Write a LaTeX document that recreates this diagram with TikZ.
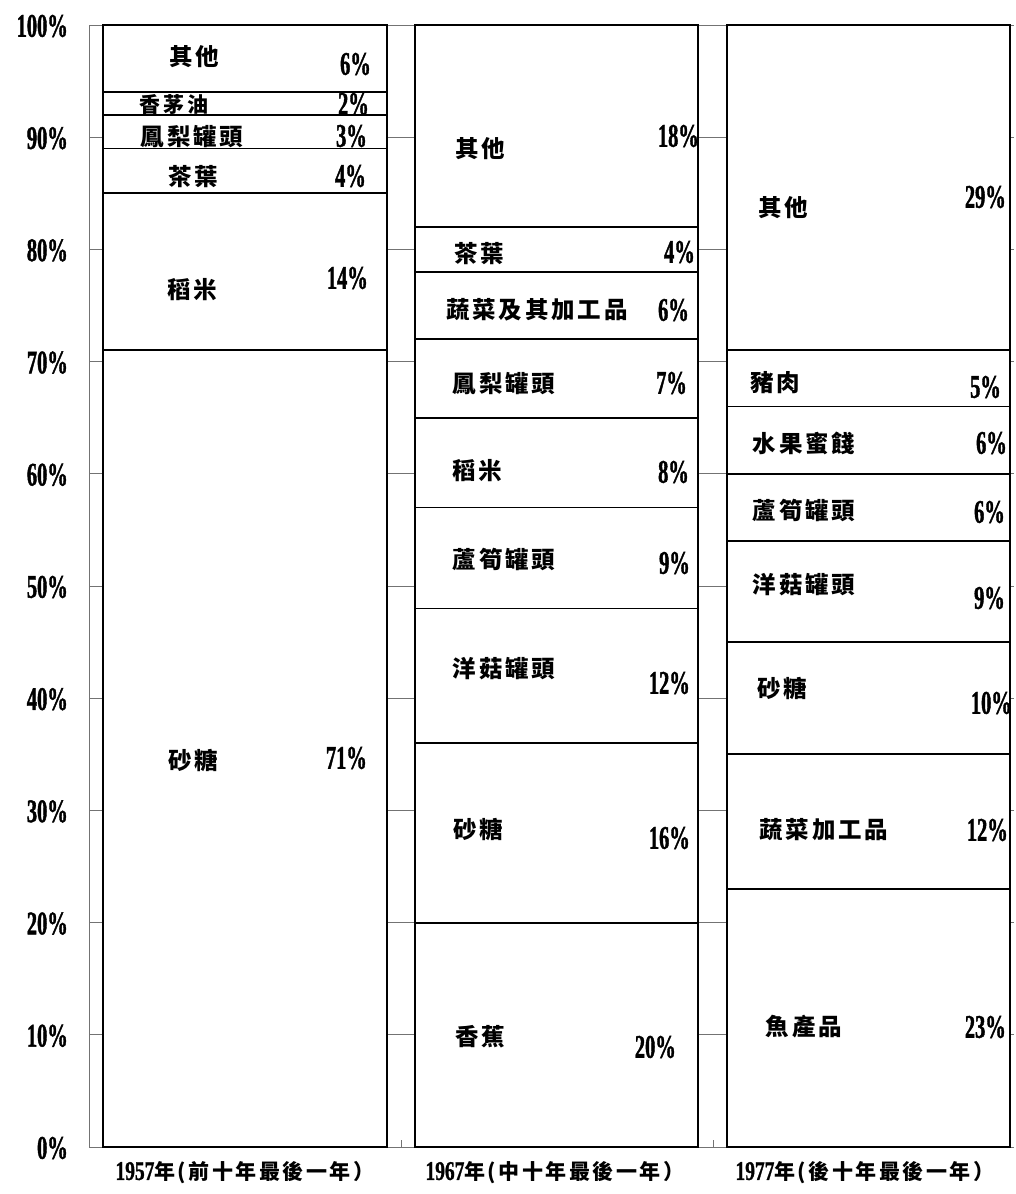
\documentclass[tikz,border=0pt]{standalone}
\usepackage{fontspec}
\newfontfamily\cjk[LetterSpace=12]{Noto Sans CJK TC}
\newfontfamily\numf[FakeStretch=0.62,FakeBold=1.2]{Liberation Serif}
\newfontfamily\numb[FakeStretch=0.72,FakeBold=1]{Liberation Serif}
\begin{document}
\begin{tikzpicture}[x=1pt,y=-1pt,
  declare function={yp(\p)=1147-11.22*\p;},
  grid/.style={draw=black!55,line width=0.8pt},
  barline/.style={draw=black,line width=1.8pt},
  lab/.style={font=\cjk\bfseries\fontsize{23.5}{23.5}\selectfont,inner sep=0pt},
  pct/.style={font=\numf\bfseries\fontsize{33}{33}\selectfont,inner sep=0pt,anchor=east},
  axl/.style={font=\numf\bfseries\fontsize{33}{33}\selectfont,inner sep=0pt,anchor=east},
  cat/.style={inner sep=0pt}]
\useasboundingbox (0,0) rectangle (1015,1194);
% gridlines and axes
\foreach \p in {10,20,...,100}{\draw[grid] (89,{yp(\p)}) -- (1014,{yp(\p)});}
\draw[grid] (89,{yp(100)}) -- (89,{yp(0)});
\draw[grid] (89,{yp(0)}) -- (1014,{yp(0)});
\draw[grid] (401,{yp(0)}) -- (401,{yp(0)-7});
\draw[grid] (713,{yp(0)}) -- (713,{yp(0)-7});
% axis labels
\foreach \p in {0,10,...,100}{\node[axl] (ax\p) at (68,{yp(\p)+1}) {\p\%};}
% bar 1
\fill[white] (103,{yp(0)}) rectangle (387,{yp(100)});
\draw[barline] (103,{yp(0)}) rectangle (387,{yp(100)});
\foreach \p in {71,85,89,92,94}{\draw[barline] (103,{yp(\p)}) -- (387,{yp(\p)});}
% bar 2
\fill[white] (415,{yp(0)}) rectangle (698,{yp(100)});
\draw[barline] (415,{yp(0)}) rectangle (698,{yp(100)});
\foreach \p in {20,36,48,57,65,72,78,82}{\draw[barline] (415,{yp(\p)}) -- (698,{yp(\p)});}
% bar 3
\fill[white] (727,{yp(0)}) rectangle (1010,{yp(100)});
\draw[barline] (727,{yp(0)}) rectangle (1010,{yp(100)});
\foreach \p in {23,35,45,54,60,66,71}{\draw[barline] (727,{yp(\p)}) -- (1010,{yp(\p)});}
% bar 1 labels
\node[lab] (a1) at (194,57) {其他};
\node[pct] (a1p) at (371,64) {6\%};
\node[lab,font=\cjk\bfseries\fontsize{21}{21}\selectfont] (a2) at (174,104) {香茅油};
\node[pct] (a2p) at (369,104) {2\%};
\node[lab] (a3) at (192,137) {鳳梨罐頭};
\node[pct] (a3p) at (367,136) {3\%};
\node[lab] (a4) at (193,177) {茶葉};
\node[pct] (a4p) at (366,176) {4\%};
\node[lab] (a5) at (192,290) {稻米};
\node[pct] (a5p) at (368,278) {14\%};
\node[lab] (a6) at (193,760) {砂糖};
\node[pct] (a6p) at (367,758) {71\%};
% bar 2 labels
\node[lab] (b1) at (480,149) {其他};
\node[pct] (b1p) at (699,136) {18\%};
\node[lab] (b2) at (479,254) {茶葉};
\node[pct] (b2p) at (695,252) {4\%};
\node[lab] (b3) at (537,310) {蔬菜及其加工品};
\node[pct] (b3p) at (689,310) {6\%};
\node[lab] (b4) at (504,384) {鳳梨罐頭};
\node[pct] (b4p) at (687,383) {7\%};
\node[lab] (b5) at (477,471) {稻米};
\node[pct] (b5p) at (689,472) {8\%};
\node[lab] (b6) at (504,559) {蘆筍罐頭};
\node[pct] (b6p) at (690,563) {9\%};
\node[lab] (b7) at (504,669) {洋菇罐頭};
\node[pct] (b7p) at (690,683) {12\%};
\node[lab] (b8) at (478,829) {砂糖};
\node[pct] (b8p) at (690,838) {16\%};
\node[lab] (b9) at (480,1037) {香蕉};
\node[pct] (b9p) at (676,1047) {20\%};
% bar 3 labels
\node[lab] (c1) at (783,208) {其他};
\node[pct] (c1p) at (1006,197) {29\%};
\node[lab] (c2) at (775,383) {豬肉};
\node[pct] (c2p) at (1001,387) {5\%};
\node[lab] (c3) at (804,443) {水果蜜餞};
\node[pct] (c3p) at (1007,443) {6\%};
\node[lab] (c4) at (804,510) {蘆筍罐頭};
\node[pct] (c4p) at (1005,512) {6\%};
\node[lab] (c5) at (804,585) {洋菇罐頭};
\node[pct] (c5p) at (1005,598) {9\%};
\node[lab] (c6) at (782,688) {砂糖};
\node[pct] (c6p) at (1012,703) {10\%};
\node[lab] (c7) at (824,830) {蔬菜加工品};
\node[pct] (c7p) at (1008,830) {12\%};
\node[lab] (c8) at (804,1027) {魚產品};
\node[pct] (c8p) at (1006,1027) {23\%};
% category labels
\node[cat] (k1) at (245,1173) {{\numb\bfseries\fontsize{27}{27}\selectfont 1957}{\cjk\bfseries\fontsize{21}{21}\selectfont 年(前十年最後一年）}};
\node[cat] (k2) at (555,1173) {{\numb\bfseries\fontsize{27}{27}\selectfont 1967}{\cjk\bfseries\fontsize{21}{21}\selectfont 年(中十年最後一年）}};
\node[cat] (k3) at (865,1173) {{\numb\bfseries\fontsize{27}{27}\selectfont 1977}{\cjk\bfseries\fontsize{21}{21}\selectfont 年(後十年最後一年）}};
\end{tikzpicture}
\end{document}
